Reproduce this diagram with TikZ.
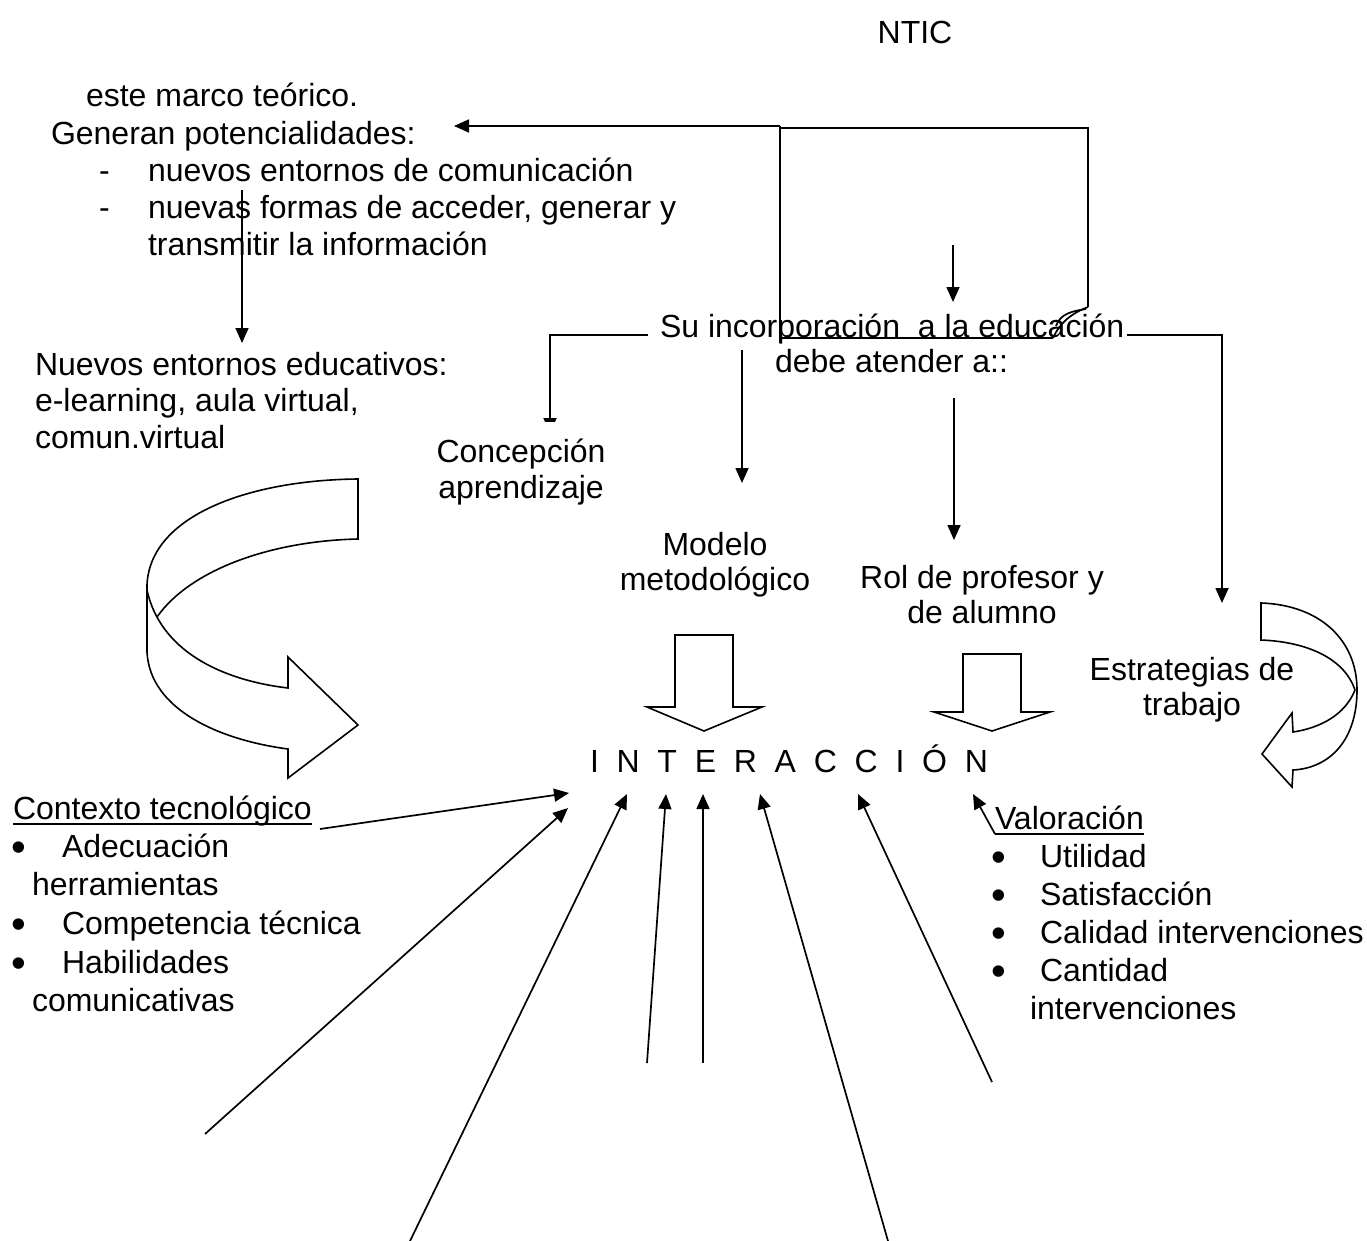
\documentclass[tikz,border=0pt]{standalone}
\usepackage{fontspec}
\setmainfont{Liberation Sans}
\usetikzlibrary{arrows.meta}
\newcommand\lsp{\hspace{17.75pt}}
\begin{document}
\begin{tikzpicture}[x=1pt,y=-1pt,
  lbl/.style={inner sep=0pt, outer sep=0pt, font=\fontsize{32}{38}\selectfont},
  lw/.style={lbl, anchor=base west},
  lc/.style={lbl, anchor=base},
  bul/.style={inner sep=0pt, outer sep=0pt, anchor=base west, font=\fontsize{42}{38}\selectfont},
  ln/.style={line width=1.7pt},
  arr/.style={ln, -{Triangle[length=15pt,width=13pt]}},
  band/.style={line width=1.6pt, line join=miter},
  uline/.style={line width=1.5pt}]
\useasboundingbox (0,0) rectangle (1367,1241);

% ---------- texts ----------
\node[lc] (ntic) at (915,44) {NTIC};
\node[lw] (marco) at (86,107) {este marco teórico.};
\node[lw] (gen) at (51,145) {Generan potencialidades:};
\node[lw] (d1) at (99,182) {-};
\node[lw] (p1) at (148,182) {nuevos entornos de comunicación};
\node[lw] (d2) at (99,219) {-};
\node[lw] (p2) at (148,219) {nuevas formas de acceder, generar y};
\node[lw] (p3) at (148,256) {transmitir la información};

\node[lw] (su1) at (660,337) {Su incorporación\ \ a la educación};
\node[lw] (su2) at (775,372) {debe atender a::};

\node[lw] (ne1) at (35,375) {Nuevos entornos educativos:};
\node[lw] (ne2) at (35,411) {e-learning, aula virtual,};
\node[lw] (ne3) at (35,448) {comun.virtual};

\node[lc] (con1) at (521,462) {Concepción};
\node[lc] (con2) at (521,498) {aprendizaje};
\node[lc] (mod1) at (715,555) {Modelo};
\node[lc] (mod2) at (715,590) {metodológico};
\node[lc] (rol1) at (982,588) {Rol de profesor y};
\node[lc] (rol2) at (982,623) {de alumno};
\node[lc] (est1) at (1192,680) {Estrategias de};
\node[lc] (est2) at (1192,715) {trabajo};

\node[lw] (inter) at (590,772) {I\lsp N\lsp T\lsp E\lsp R\lsp A\lsp C\lsp C\lsp I\lsp Ó\lsp N};

\node[lw] (ctx) at (13,819) {Contexto tecnológico};
\node[bul] (cb1) at (12,861) {•};
\node[lw] (c1) at (62,857) {Adecuación};
\node[lw] (c1b) at (32,895) {herramientas};
\node[bul] (cb2) at (12,938) {•};
\node[lw] (c2) at (62,934) {Competencia técnica};
\node[bul] (cb3) at (12,977) {•};
\node[lw] (c3) at (62,973) {Habilidades};
\node[lw] (c3b) at (32,1011) {comunicativas};

\node[lw] (val) at (995,829) {Valoración};
\node[bul] (vb1) at (991,871) {•};
\node[lw] (v1) at (1040,867) {Utilidad};
\node[bul] (vb2) at (991,909) {•};
\node[lw] (v2) at (1040,905) {Satisfacción};
\node[bul] (vb3) at (991,947) {•};
\node[lw] (v3) at (1040,943) {Calidad intervenciones};
\node[bul] (vb4) at (991,985) {•};
\node[lw] (v4) at (1040,981) {Cantidad};
\node[lw] (v4b) at (1030,1019) {intervenciones};

% underlines
\draw[uline] ([yshift=-5pt]ctx.base west) -- ([yshift=-5pt]ctx.base east);
\draw[uline] ([yshift=-5pt]val.base west) -- ([yshift=-5pt]val.base east);

% ---------- upper connectors ----------
\coordinate (kL) at (454,126);
\coordinate (kT) at (780,126);
\coordinate (kB) at (780,343);
\draw[arr] (kT) -- (kL);
\draw[ln] (kT) -- (kB);
% folded-corner frame
\coordinate (fr1) at (780,128);
\coordinate (fr2) at (1088,128);
\coordinate (fr3) at (1088,307);
\coordinate (fr4) at (1053,338);
\coordinate (fr5) at (780,338);
\draw[ln] (fr1) -- (fr2) -- (fr3);
\draw[ln] (fr5) -- (fr4);
\draw[ln] (fr3) .. controls (1078,311) and (1062,318) .. (fr4);
\draw[ln] (1056,326) .. controls (1060,314) and (1072,311) .. (1086,309);
\coordinate (ia) at (953,245);
\coordinate (ib) at (953,302);
\draw[arr] (ia) -- (ib);

\coordinate (ga) at (242,190);
\coordinate (gb) at (242,343);
\draw[arr] (ga) -- (gb);

% Su incorporacion -> Concepcion (arrow tip hidden)
\coordinate (sa) at (648,335);
\coordinate (sb) at (550,335);
\coordinate (sc) at (550,433);
\begin{scope}
\clip (500,300) rectangle (700,421);
\draw[arr] (sa) -- (sb) -- (sc);
\end{scope}

\coordinate (ma) at (742,350);
\coordinate (mb) at (742,483);
\draw[arr] (ma) -- (mb);

\coordinate (ra) at (954,398);
\coordinate (rb) at (954,540);
\draw[arr] (ra) -- (rb);

\coordinate (ea) at (1127,335);
\coordinate (eb) at (1222,335);
\coordinate (ec) at (1222,603);
\draw[arr] (ea) -- (eb) -- (ec);

% ---------- block arrows ----------
\draw[band] (675,635) -- (733,635) -- (733,707) -- (762,707) -- (704,731)
  -- (647,707) -- (675,707) -- cycle;
\draw[band] (963,654) -- (1021,654) -- (1021,712) -- (1050,712) -- (992,731)
  -- (934,712) -- (963,712) -- cycle;

% ---------- left curved arrow ----------
\draw[band] (147,585) .. controls (150,515) and (250,480) .. (358,479)
  -- (358,539) .. controls (270,541) and (190,570) .. (157,617);
\draw[band] (147,585) -- (147,652);
\draw[band] (147,590) .. controls (160,650) and (220,680) .. (288,688)
  -- (288,657) -- (358,725) -- (288,778) -- (288,749)
  .. controls (220,740) and (150,710) .. (147,652);

% ---------- right curved arrow ----------
\draw[band] (1355,690) .. controls (1345,660) and (1310,642) .. (1261,640)
  -- (1261,603) .. controls (1320,605) and (1357,640) .. (1357,690)
  .. controls (1357,740) and (1330,768) .. (1293,770)
  -- (1292,787) -- (1262,754) -- (1292,713) -- (1293,732)
  .. controls (1320,728) and (1345,715) .. (1355,690);

% ---------- arrows into INTERACCION ----------
\coordinate (a1s) at (320,829);  \coordinate (a1t) at (569,793);
\coordinate (a2s) at (205,1134); \coordinate (a2t) at (568,808);
\coordinate (a3s) at (410,1241); \coordinate (a3t) at (627,794);
\coordinate (a4s) at (647,1063); \coordinate (a4t) at (666,794);
\coordinate (a5s) at (703,1063); \coordinate (a5t) at (703,794);
\coordinate (a6s) at (888,1241); \coordinate (a6t) at (760,794);
\coordinate (a7s) at (992,1082); \coordinate (a7t) at (858,794);
\coordinate (a8s) at ([yshift=-5pt]val.base west); \coordinate (a8t) at (973,794);
\foreach \i in {1,...,8} {\draw[arr] (a\i s) -- (a\i t);}
\end{tikzpicture}
\end{document}
